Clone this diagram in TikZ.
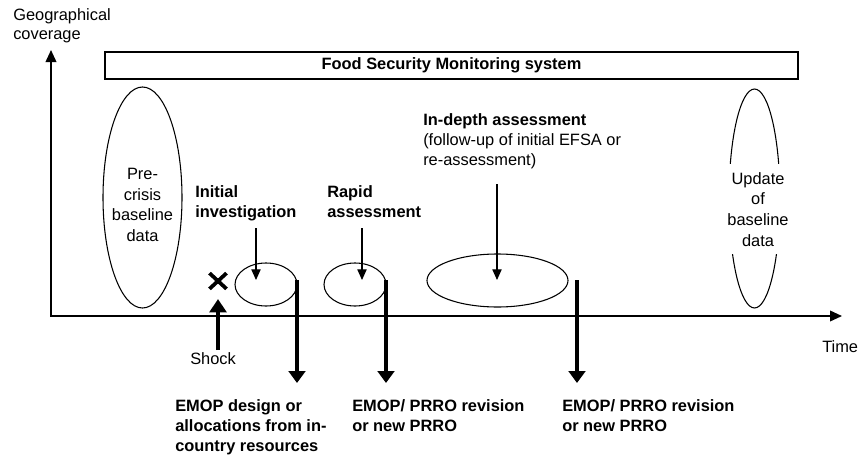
\documentclass[tikz,border=0pt]{standalone}
\usepackage{fontspec}
\setmainfont{Liberation Sans}
\usetikzlibrary{arrows.meta,shapes.geometric,shapes.misc}
\begin{document}
\begin{tikzpicture}[x=0.75pt,y=-0.75pt,
  txt/.style={font=\fontsize{12.3pt}{15pt}\selectfont, inner sep=0pt},
  btxt/.style={font=\fontsize{12.3pt}{15pt}\selectfont\bfseries, inner sep=0pt},
  oval/.style={draw, ellipse, line width=0.8pt, inner sep=0pt},
  axisline/.style={line width=1.2pt},
  thinarrow/.style={line width=0.8pt, -{Triangle[length=8pt,width=7pt]}},
  thickarrow/.style={line width=3pt, -{Triangle[length=9pt,width=12.5pt]}},
  shockarrow/.style={line width=3pt, -{Triangle[length=10pt,width=12.5pt]}},
]
\useasboundingbox (0,0) rectangle (861,457);

% axes
\coordinate (ytop) at (51,50);
\coordinate (xend) at (842,316);
\draw[axisline, {Triangle[length=9pt,width=8pt]}-{Triangle[length=9pt,width=8pt]}] (ytop) |- (xend);
\node[txt, align=left, anchor=north west, font=\fontsize{12.3pt}{14.25pt}\selectfont] (geo) at (13,8) {Geographical\\coverage};
\node[txt, anchor=base west] (time) at (822,352) {Time};

% monitoring system box
\node[draw, line width=1pt, minimum width=519.75pt, minimum height=20.25pt, inner sep=0pt,
      font=\fontsize{12.3pt}{15pt}\selectfont\bfseries] (fsm) at (451.5,65.5) {Food Security Monitoring system};

% baseline ellipses
\node[oval, minimum width=59.25pt, minimum height=165.75pt] (pre) at (142.5,197.5) {};
\node[txt, align=center, anchor=north, font=\fontsize{12.3pt}{15.5pt}\selectfont] (pretxt) at (142.5,168) {Pre-\\crisis\\baseline\\data};

\node[oval, minimum width=38.25pt, minimum height=164.25pt] (upd) at (754.5,198.5) {};
\node[txt, align=center, anchor=north, fill=white, inner xsep=2pt, inner ysep=6pt,
      font=\fontsize{12.3pt}{15.5pt}\selectfont] (updtxt) at (758,164) {Update\\of\\baseline\\data};

% assessment ellipses
\node[oval, minimum width=46.5pt, minimum height=32.25pt] (init) at (266,284.5) {};
\node[oval, minimum width=46.5pt, minimum height=32.25pt] (rapid) at (355,284.5) {};
\node[oval, minimum width=105.75pt, minimum height=39.75pt] (deep) at (497.5,280.5) {};

% labels
\node[btxt, align=left, anchor=north west] (initlbl) at (195,185) {Initial\\investigation};
\node[btxt, align=left, anchor=north west] (rapidlbl) at (327,185) {Rapid\\assessment};
\node[txt, align=left, anchor=north west] (deeplbl) at (423,113) {\textbf{In-depth assessment}\\(follow-up of initial EFSA or\\re-assessment)};

% thin arrows
\coordinate (a1s) at (256,228); \coordinate (a1e) at (256,280);
\coordinate (a2s) at (362,228); \coordinate (a2e) at (362,280);
\coordinate (a3s) at (497,184); \coordinate (a3e) at (497,280);
\draw[thinarrow] (a1s) -- (a1e);
\draw[thinarrow] (a2s) -- (a2e);
\draw[thinarrow] (a3s) -- (a3e);

% shock
\node[cross out, draw, line width=2.8pt, minimum width=10pt, minimum height=9pt, inner sep=0pt] (xmark) at (218,281) {};
\coordinate (shs) at (218,350); \coordinate (she) at (218,299);
\draw[shockarrow] (shs) -- (she);
\node[txt, anchor=base west] (shock) at (190,364) {Shock};

% thick arrows
\coordinate (t1s) at (297,280); \coordinate (t1e) at (297,383);
\coordinate (t2s) at (386,280); \coordinate (t2e) at (386,383);
\coordinate (t3s) at (577,280); \coordinate (t3e) at (577,383);
\draw[thickarrow] (t1s) -- (t1e);
\draw[thickarrow] (t2s) -- (t2e);
\draw[thickarrow] (t3s) -- (t3e);

% outcome labels
\node[btxt, align=left, anchor=north west] (out1) at (175,399) {EMOP design or\\allocations from in-\\country resources};
\node[btxt, align=left, anchor=north west] (out2) at (352,399) {EMOP/ PRRO revision\\or new PRRO};
\node[btxt, align=left, anchor=north west] (out3) at (562,399) {EMOP/ PRRO revision\\or new PRRO};
\end{tikzpicture}
\end{document}
